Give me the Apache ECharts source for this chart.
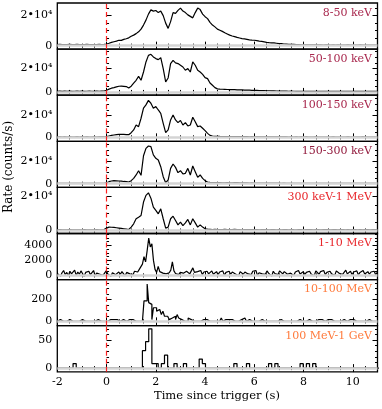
<!DOCTYPE html>
<html>
<head>
<meta charset="utf-8">
<script src="https://cdn.jsdelivr.net/npm/echarts@6/dist/echarts.min.js"></script>
<style>
  html, body { margin: 0; padding: 0; background: #fff; }
  #chart { width: 382px; height: 409px; }
</style>
</head>
<body>
<div id="chart"></div>
<script>
// energy bands, top to bottom
const bandLabels = ['8-50 keV', '50-100 keV', '100-150 keV', '150-300 keV', '300 keV-1 MeV', '1-10 MeV', '10-100 MeV', '100 MeV-1 GeV'];
const bandColors = ['#a8284e', '#a8284e', '#a8284e', '#931d3f', '#e8262b', '#e8262b', '#ff7a3c', '#ff7a3c'];

// bin widths (s), every curve starts at t = -2 s
const timeStart = -2;
const binWidths = [0.1, 0.1, 0.1, 0.1, 0.1, 0.064, 0.064, 0.128];

// counts/s
const rate8to50keV = [
  700, 800, 650, 750, 700, 850, 700, 650, 800, 700, 750, 650, 800, 700, 750, 650, 700, 800, 750, 900,
  1100, 1600, 2200, 2600, 3000, 3600, 3500, 4200, 4600, 5200,
  6300, 7000, 8000, 9200, 11000, 13700, 17000, 21000, 23800, 23000,
  23400, 22000, 23000, 20000, 15000, 11500, 16000, 22000, 21500, 23500,
  25000, 23000, 22000, 20500, 19500, 18500, 22000, 25000, 24000, 21000,
  19300, 18000, 15500, 13700, 12500, 11000, 10300, 9500, 8600, 7800,
  7000, 6400, 6000, 5500, 5100, 4700, 4500, 4200, 3900, 3700,
  3600, 3300, 3000, 2800, 2500, 2200, 2000, 1900, 1800, 1600,
  1400, 1300, 1100, 1000, 900, 850, 800, 700, 650, 600,
  600, 550, 500, 550, 500, 450, 500, 450, 400, 450,
  450, 400, 450, 400, 450, 400, 350, 400, 450, 400,
  400, 350, 400, 450, 350, 400, 350, 400, 350, 400, 400
];
const rate50to100keV = [
  600, 700, 550, 650, 600, 700, 550, 600, 650, 600, 700, 550, 600, 650, 600, 550, 650, 600, 700, 800,
  1400, 2400, 3200, 3700, 4300, 4900, 5000, 4800, 4600, 3400,
  4900, 7500, 10000, 13400, 10000, 17100, 25700, 31400, 32300, 30000,
  28600, 27700, 29400, 20000, 8600, 12000, 24300, 27100, 24900, 24300,
  22900, 21400, 18600, 20000, 17100, 25700, 22900, 18600, 17100, 15100,
  12300, 11400, 7700, 5700, 3700, 2600, 2400, 2300, 2200, 2100,
  2000, 1900, 1900, 1800, 1700, 1700, 1600, 1500, 1500, 1400,
  1400, 1300, 1200, 1200, 1100, 1000, 1000, 900, 850, 800,
  750, 700, 700, 650, 600, 650, 600, 550, 600, 550,
  550, 500, 550, 500, 550, 500, 450, 500, 550, 500,
  500, 450, 500, 450, 500, 450, 500, 450, 400, 450,
  450, 400, 450, 400, 450, 400, 450, 400, 450, 400, 450
];
const rate100to150keV = [
  300, 400, 250, 350, 300, 400, 300, 250, 350, 300, 400, 300, 350, 250, 300, 350, 300, 400, 350, 450,
  600, 1200, 1700, 2100, 2500, 2700, 2800, 2700, 2500, 2400,
  4200, 6700, 11200, 9700, 17300, 26400, 29400, 33500, 30900, 26400,
  27900, 24800, 21800, 12700, 4200, 6700, 15800, 20300, 15800, 13300,
  15200, 11200, 13300, 10300, 11200, 18200, 14200, 9700, 10300, 8200,
  6100, 3600, 1800, 1200, 900, 900, 800, 750, 700, 700,
  650, 700, 600, 650, 600, 550, 600, 550, 500, 550,
  500, 450, 500, 450, 400, 450, 400, 450, 400, 350,
  400, 350, 400, 350, 300, 350, 300, 350, 300, 350,
  300, 350, 300, 250, 300, 350, 300, 250, 300, 300,
  250, 300, 350, 300, 250, 300, 250, 300, 350, 300,
  250, 300, 250, 300, 350, 300, 250, 300, 250, 300, 300
];
const rate150to300keV = [
  300, 350, 250, 300, 350, 250, 300, 350, 300, 250, 300, 350, 300, 250, 350, 300, 250, 350, 300, 400,
  900, 1800, 2400, 2700, 2600, 2400, 2300, 2000, 1800, 1500,
  2700, 4800, 7800, 11600, 7500, 25000, 31600, 33700, 33100, 25700,
  22700, 21200, 15200, 6300, 900, 3300, 13700, 17600, 14600, 9900,
  11600, 8700, 9300, 13700, 7800, 15800, 10700, 5700, 7800, 4800,
  2700, 1500, 1200, 1100, 1000, 900, 900, 850, 800, 900,
  850, 800, 900, 1000, 850, 800, 750, 700, 650, 700,
  650, 600, 550, 600, 500, 550, 500, 450, 500, 450,
  450, 400, 450, 400, 350, 400, 350, 400, 350, 300,
  350, 300, 350, 300, 250, 300, 350, 300, 250, 300,
  300, 250, 300, 350, 300, 250, 300, 250, 300, 350,
  300, 250, 300, 250, 300, 350, 300, 250, 300, 250, 300
];
const rate300keVto1MeV = [
  400, 500, 350, 450, 400, 500, 350, 400, 450, 400, 350, 500, 400, 450, 350, 400, 500, 400, 450, 600,
  1400, 2000, 1900, 1800, 1600, 1400, 1200, 1000, 800, 600,
  2000, 3900, 6900, 7800, 8800, 16700, 20600, 22100, 19000, 13700,
  11800, 9800, 12700, 6900, 1400, 2000, 6900, 8400, 5900, 3300,
  4900, 2900, 4500, 6500, 3300, 6900, 4500, 2000, 3300, 2000,
  1000, 800, 700, 600, 700, 500, 600, 500, 700, 600,
  600, 500, 650, 500, 600, 450, 550, 600, 500, 550,
  500, 600, 450, 550, 500, 600, 450, 500, 550, 450,
  500, 450, 550, 500, 450, 600, 500, 450, 550, 500,
  450, 550, 500, 600, 450, 500, 550, 450, 500, 550,
  500, 450, 550, 500, 450, 500, 550, 450, 500, 450,
  500, 550, 450, 500, 450, 550, 500, 450, 500, 550, 500
];
const rate1to10MeV = [
  250, 500, -100, 350, 650, 100, 400, -50, 550, 200, 300, 700, 0, 450, 150, 600, 250, -150, 400, 300,
  550, 100, 350, 650, -50, 300, 500, 150, 400, 0, 250, 600, 200, 450, -100, 350, 550, 100, 300, 450,
  150, 500, 250, -50, 400, 600, 200, 350, 100, 550, 650, 450, 800,
  700, 1500, 2500, 1800, 3300, 4960, 3800, 4200, 2000, 800, 400, 1200, 500, 700, 300, 550, 200, 450, 350, 700, 1800, 600,
  250, 500, 100, 400, 650, 300, 150, 550, 350, 200, 600, 1000, 400, 150, 500, 300, 650, 100, 450, 250, 550, 200, 400, 600, 150,
  350, 500, 100, 450, 250, 600, 0, 400, 300, 550, 150, 450, 650, 200, 350, -50, 500, 300, 150, 450,
  600, 200, 400, 100, 550, 300, 650, 0, 350, 500, 200, 450, 150, 600, 300, 400, -100, 550, 250, 450,
  100, 600, 350, 200, 500, 700, 150, 400, 300, 550, 0, 450, 250, 650, 200, 350, 500, 100, 400, 300,
  550, 200, 450, -50, 600, 350, 150, 500, 300, 650, 100, 400, 250, 550, 200, 450, 0, 600, 350, 250,
  500, 150, 400, 700, 200, 350, 550, 100, 450, 300, 600, 50, 400, 250, 650, 200, 350, 500, 150, 450, 300, 550, 100, 400
];
const rate10to100MeV = [
  0, 16, 16, 0, 0, 0, 0, 0, 16, 0,
  0, 0, 0, 0, 0, 0, 16, 16, 0, 0,
  0, 0, 0, 0, 0, 0, 16, 0, 0, 0,
  0, 0, 0, 0, 16, 0, 16, 0, 16, 0,
  0, 0, 16, 16, 0, 0, 16, 0, 16, 0,
  0, 16, 0, 0, 0, 0, 188, 188, 344, 172,
  156, 16, 125, 125, 94, 109, 109, 62, 94, 47,
  47, 31, 16, 31, 47, 47, 16, 62, 31, 16,
  31, 0, 16, 0, 31, 16, 31, 0, 16, 0,
  16, 0, 0, 16, 0, 16, 31, 0, 16, 0,
  16, 0, 0, 0, 16, 31, 0, 16, 0, 16,
  0, 16, 0, 0, 16, 0, 0, 16, 0, 31,
  16, 0, 16, 0, 0, 16, 0, 0, 0, 16,
  16, 0, 0, 0, 0, 16, 0, 16, 0, 0,
  0, 0, 16, 16, 0, 0, 0, 0, 0, 0,
  0, 16, 0, 16, 16, 0, 0, 16, 0, 16,
  16, 0, 0, 0, 0, 0, 16, 0, 16, 0,
  0, 0, 16, 0, 16, 16, 0, 0, 0, 16,
  0, 16, 16, 0, 0, 0, 16, 0, 16, 16,
  0, 16, 0, 0, 0, 16, 0, 16, 16, 0,
  0, 16, 0, 0
];
const rate100MeVto1GeV = [
  0, 0, 0, 0, 0, 0, 8, 0, 0, 0,
  0, 0, 0, 0, 0, 0, 0, 0, 0, 0,
  0, 0, 0, 0, 0, 0, 0, 0, 31, 47,
  70, 8, 8, 0, 8, 23, 0, 0, 8, 0,
  0, 8, 0, 0, 0, 0, 16, 8, 0, 0,
  0, 0, 0, 0, 0, 0, 0, 8, 0, 0,
  0, 8, 0, 0, 0, 0, 0, 0, 8, 0,
  8, 0, 0, 0, 0, 0, 0, 0, 8, 0,
  8, 0, 8, 0, 0, 0, 0, 0, 0, 0,
  0, 0, 0, 0, 0, 0, 0, 0, 0, 0,
  0, 0, 0
];
const bandRates = [rate8to50keV, rate50to100keV, rate100to150keV, rate150to300keV,
  rate300keVto1MeV, rate1to10MeV, rate10to100MeV, rate100MeVto1GeV];

// axes
const xTicks = { min: -2, max: 11, interval: 2 };
const yMins = [-2300, -2800, -3600, -3300, -1760, -560, -40, -6.6];
const yMaxs = [28400, 36750, 38200, 37900, 25300, 5580, 384, 75.5];
const yMajorTicks = [[0, 20000], [0, 20000], [0, 20000], [0, 20000], [0, 20000], [0, 2000, 4000], [0, 200], [0, 50]];
const yMinorTicks = [
  [5000, 10000, 15000, 25000],
  [5000, 10000, 15000, 25000, 30000, 35000],
  [5000, 10000, 15000, 25000, 30000, 35000],
  [5000, 10000, 15000, 25000, 30000, 35000],
  [5000, 10000, 15000],
  [500, 1000, 1500, 2500, 3000, 3500, 4500, 5000, 5500],
  [50, 100, 150, 250, 300, 350],
  [10, 20, 30, 40, 60, 70]
];
const yTickLabels = [['0', '2•10⁴'], ['0', '2•10⁴'], ['0', '2•10⁴'], ['0', '2•10⁴'], ['0', '2•10⁴'],
  ['0', '2000', '4000'], ['0', '200'], ['0', '50']];

const FONT = 'DejaVu Serif';
const panelTop = 3, panelH = 46.1, plotLeft = 57.3, plotRight = 4.5;

const chart = echarts.init(document.getElementById('chart'), null, { renderer: 'canvas' });

const grids = [], xAxes = [], yAxes = [], series = [], graphics = [];

bandRates.forEach((rates, i) => {
  const top = panelTop + i * panelH;
  const last = i === bandRates.length - 1;
  grids.push({ left: plotLeft, right: plotRight, top: top, height: panelH, show: true, borderColor: '#000', borderWidth: 1.3 });

  // bottom + top x axes (ticks on both sides)
  ['bottom', 'top'].forEach(pos => {
    xAxes.push({
      type: 'value', gridIndex: i, position: pos,
      min: xTicks.min, max: xTicks.max, interval: xTicks.interval,
      axisLine: { show: false },
      axisTick: { show: true, inside: true, length: 4, lineStyle: { color: '#000' } },
      minorTick: { show: true, splitNumber: 4, length: 2, lineStyle: { color: '#000' } },
      splitLine: { show: false },
      axisLabel: { show: last && pos === 'bottom', showMaxLabel: false, color: '#000', fontFamily: FONT, fontSize: 11, margin: 5 }
    });
  });

  // left/right y axes, major then minor ticks
  const majors = yMajorTicks[i], labels = yTickLabels[i];
  ['left', 'right'].forEach(pos => {
    yAxes.push({
      type: 'value', gridIndex: i, position: pos, min: yMins[i], max: yMaxs[i],
      axisLine: { show: false }, splitLine: { show: false },
      axisTick: { show: true, inside: true, length: 5, customValues: majors, lineStyle: { color: '#000' } },
      axisLabel: {
        show: pos === 'left', customValues: majors, color: '#000', fontFamily: FONT, fontSize: 11, margin: 5,
        formatter: v => labels[majors.indexOf(v)]
      }
    });
    yAxes.push({
      type: 'value', gridIndex: i, position: pos, min: yMins[i], max: yMaxs[i],
      axisLine: { show: false }, splitLine: { show: false },
      axisTick: { show: true, inside: true, length: 2.5, customValues: yMinorTicks[i], lineStyle: { color: '#000' } },
      axisLabel: { show: false }
    });
  });

  const dt = binWidths[i];
  const points = rates.map((v, k) => [+(timeStart + k * dt).toFixed(3), v]);

  // zero level and trigger time
  series.push({
    type: 'line', xAxisIndex: 2 * i, yAxisIndex: 4 * i, data: [], z: 1, silent: true,
    markLine: {
      silent: true, symbol: ['none', 'none'], label: { show: false }, animation: false,
      data: [
        { yAxis: 0, lineStyle: { color: '#d4d4d4', width: 2.5, type: 'solid' } },
        { xAxis: 0, lineStyle: { color: '#ff2020', width: 1.2, type: [5, 3] } }
      ]
    }
  });
  series.push({
    type: 'line', xAxisIndex: 2 * i, yAxisIndex: 4 * i, data: points, z: 3,
    showSymbol: false, step: i >= 6 ? 'start' : false,
    lineStyle: { color: '#000', width: 1.2 }
  });

  graphics.push({
    type: 'text', x: 372, y: top + 10,
    style: { text: bandLabels[i], fill: bandColors[i], font: '11px "' + FONT + '"', textAlign: 'right', textVerticalAlign: 'middle' }
  });
});

graphics.push({
  type: 'text', x: 217, y: 396,
  style: { text: 'Time since trigger (s)', fill: '#000', font: '11.5px "' + FONT + '"', textAlign: 'center', textVerticalAlign: 'middle' }
});
graphics.push({
  type: 'text', x: 9, y: 167, rotation: Math.PI / 2,
  style: { text: 'Rate (counts/s)', fill: '#000', font: '12px "' + FONT + '"', textAlign: 'center', textVerticalAlign: 'middle' }
});

chart.setOption({
  animation: false,
  grid: grids,
  xAxis: xAxes,
  yAxis: yAxes,
  series: series,
  graphic: graphics
});
</script>
</body>
</html>
